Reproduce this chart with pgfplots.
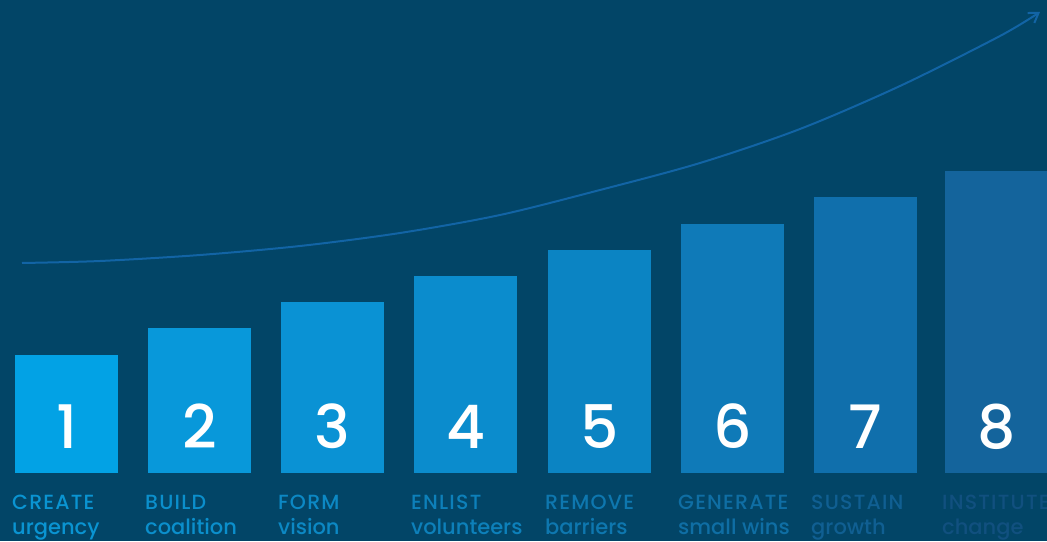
\documentclass[border=0pt]{standalone}
\usepackage{pgfplots}
\pgfplotsset{compat=1.18}
\usepackage{fontspec}
\setmainfont{Poppins Medium}
\newfontfamily\capsfont{Poppins Medium}[LetterSpace=6]
\usetikzlibrary{arrows.meta}
\definecolor{bg}{RGB}{2,69,103}
\definecolor{b1}{RGB}{2,162,229}
\definecolor{b2}{RGB}{8,152,218}
\definecolor{b3}{RGB}{10,146,212}
\definecolor{b4}{RGB}{11,140,205}
\definecolor{b5}{RGB}{11,132,195}
\definecolor{b6}{RGB}{15,122,184}
\definecolor{b7}{RGB}{16,111,172}
\definecolor{b8}{RGB}{20,100,156}
\definecolor{t1}{RGB}{10,148,210}
\definecolor{t2}{RGB}{11,143,204}
\definecolor{t3}{RGB}{12,136,196}
\definecolor{t4}{RGB}{13,128,186}
\definecolor{t5}{RGB}{14,119,175}
\definecolor{t6}{RGB}{15,110,164}
\definecolor{t7}{RGB}{16,95,146}
\definecolor{t8}{RGB}{17,80,127}
\definecolor{curve}{RGB}{18,100,165}
\tikzset{num/.style={text=white, font=\fontsize{60}{60}\selectfont, anchor=base},
  lab/.style={font=\fontsize{21}{21}\selectfont, anchor=base west, inner sep=0pt},
  capl/.style={font=\capsfont\fontsize{20.5}{21}\selectfont, anchor=base west, inner sep=0pt}}
\begin{document}
\begin{tikzpicture}
\fill[bg] (0,0) rectangle (1047pt,541pt);
\begin{axis}[
  at={(0,0)}, anchor=south west,
  scale only axis, width=1047pt, height=541pt,
  xmin=0, xmax=1047, ymin=-68, ymax=473,
  hide axis, clip=false,
]
\addplot[ybar, bar width=103, bar shift=0pt, draw=none, fill=b1] coordinates {(66.5,118)};
\addplot[ybar, bar width=103, bar shift=0pt, draw=none, fill=b2] coordinates {(199.5,145)};
\addplot[ybar, bar width=103, bar shift=0pt, draw=none, fill=b3] coordinates {(332.5,171)};
\addplot[ybar, bar width=103, bar shift=0pt, draw=none, fill=b4] coordinates {(465.5,197)};
\addplot[ybar, bar width=103, bar shift=0pt, draw=none, fill=b5] coordinates {(599.5,223)};
\addplot[ybar, bar width=103, bar shift=0pt, draw=none, fill=b6] coordinates {(732.5,249)};
\addplot[ybar, bar width=103, bar shift=0pt, draw=none, fill=b7] coordinates {(865.5,276)};
\addplot[ybar, bar width=103, bar shift=0pt, draw=none, fill=b8] coordinates {(996.5,302)};
\addplot[smooth, draw=curve, line width=2pt, -{Straight Barb[length=9pt,width=12pt,line width=2pt]}]
  coordinates {(22,210) (100,212) (200,218) (300,227) (400,240) (500,258) (600,283) (700,310) (800,344) (900,387) (1000,437) (1040,461)};
\node[num] at (axis cs:66.5,24) {1};
\node[num] at (axis cs:199.5,24) {2};
\node[num] at (axis cs:332.5,24) {3};
\node[num] at (axis cs:465.5,24) {4};
\node[num] at (axis cs:599.5,24) {5};
\node[num] at (axis cs:732.5,24) {6};
\node[num] at (axis cs:865.5,24) {7};
\node[num] at (axis cs:996.5,24) {8};
\node[capl, text=t1] at (axis cs:12,-37) {CREATE};
\node[lab, text=t1] at (axis cs:12,-62) {urgency};
\node[capl, text=t2] at (axis cs:145,-37) {BUILD};
\node[lab, text=t2] at (axis cs:145,-62) {coalition};
\node[capl, text=t3] at (axis cs:278,-37) {FORM};
\node[lab, text=t3] at (axis cs:278,-62) {vision};
\node[capl, text=t4] at (axis cs:411,-37) {ENLIST};
\node[lab, text=t4] at (axis cs:411,-62) {volunteers};
\node[capl, text=t5] at (axis cs:545,-37) {REMOVE};
\node[lab, text=t5] at (axis cs:545,-62) {barriers};
\node[capl, text=t6] at (axis cs:678,-37) {GENERATE};
\node[lab, text=t6] at (axis cs:678,-62) {small wins};
\node[capl, text=t7] at (axis cs:811,-37) {SUSTAIN};
\node[lab, text=t7] at (axis cs:811,-62) {growth};
\node[capl, text=t8] at (axis cs:942,-37) {INSTITUTE};
\node[lab, text=t8] at (axis cs:942,-62) {change};
\end{axis}
\pgfresetboundingbox
\useasboundingbox (0,0) rectangle (1047pt,541pt);
\end{tikzpicture}
\end{document}
